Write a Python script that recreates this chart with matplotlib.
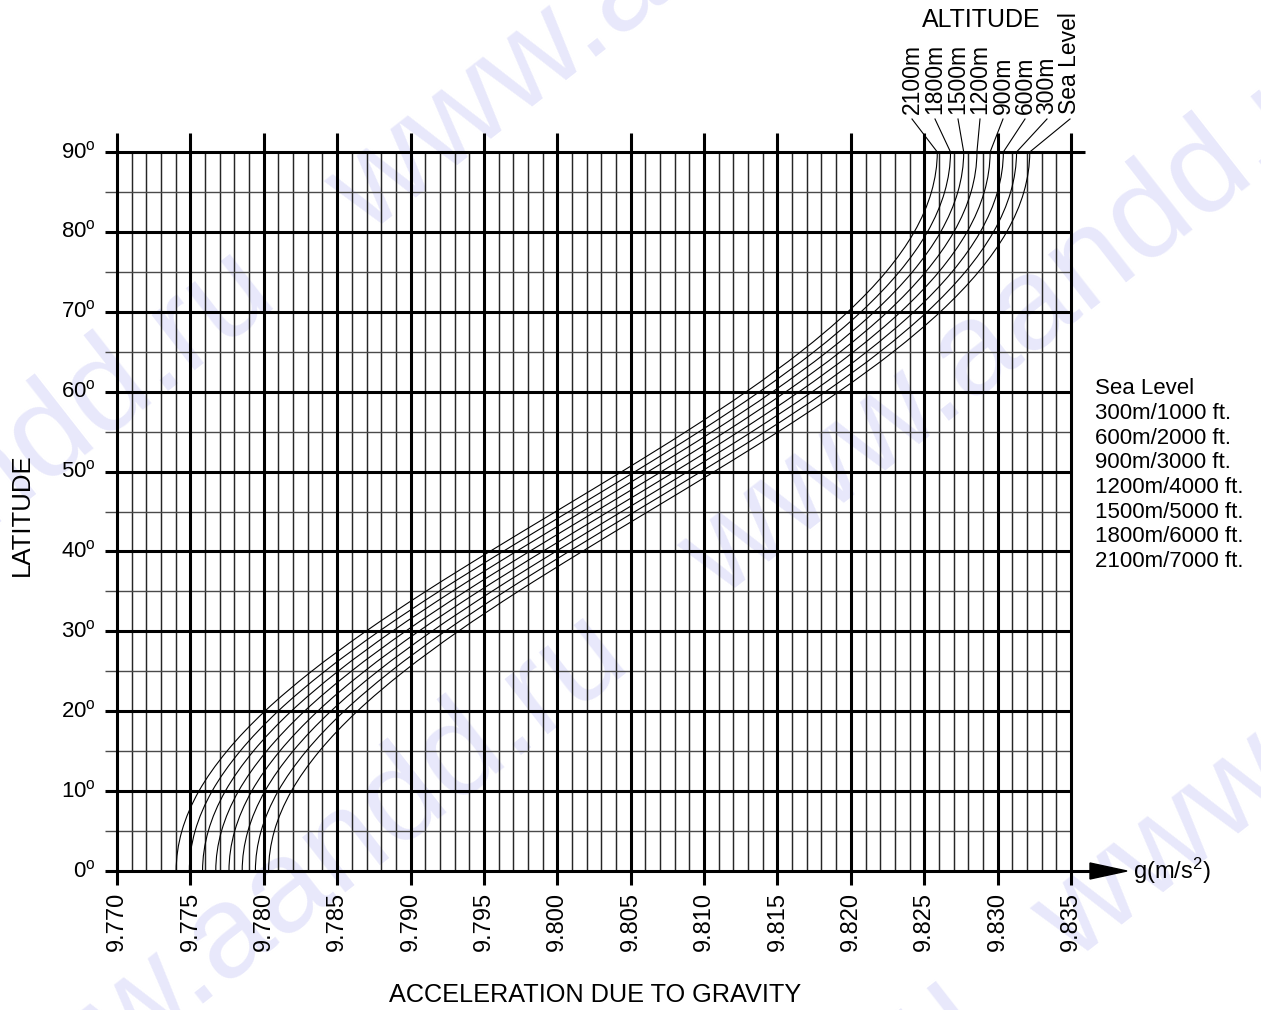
import matplotlib
matplotlib.use("Agg")
import matplotlib.pyplot as plt
from matplotlib.path import Path
from matplotlib.patches import PathPatch, Polygon

plt.rcParams['font.family'] = ['Liberation Sans', 'DejaVu Sans']
plt.rcParams['mathtext.fontset'] = 'custom'
plt.rcParams['mathtext.rm'] = 'Liberation Sans'
plt.rcParams['mathtext.it'] = 'Liberation Sans:italic'

# ---------------- data ----------------
latitudes = [0, 5, 10, 15, 20, 25, 30, 35, 40, 45, 50, 55, 60, 65, 70, 75, 80, 85, 90]
g_sea_level = [9.78033, 9.78072, 9.78188, 9.78379, 9.78637, 9.78956, 9.79325,
               9.79734, 9.80170, 9.80620, 9.81070, 9.81507, 9.81918, 9.82289,
               9.82610, 9.82870, 9.83062, 9.83179, 9.83219]
altitude_names = ["Sea Level", "300m", "600m", "900m", "1200m", "1500m", "1800m", "2100m"]
# horizontal shift of each altitude curve relative to sea level (m/s^2)
altitude_shift = [0.0, 0.0009, 0.0018, 0.0027, 0.0036, 0.0045, 0.0054, 0.0063]
legend_lines = ["Sea Level", "300m/1000 ft.", "600m/2000 ft.", "900m/3000 ft.",
                "1200m/4000 ft.", "1500m/5000 ft.", "1800m/6000 ft.", "2100m/7000 ft."]
x_ticks = [9.770, 9.775, 9.780, 9.785, 9.790, 9.795, 9.800, 9.805, 9.810,
           9.815, 9.820, 9.825, 9.830, 9.835]
y_ticks = [0, 10, 20, 30, 40, 50, 60, 70, 80, 90]
x_minor_step = 0.001
y_minor_step = 5

# ---------------- figure ----------------
W, H = 1261, 1010
fig = plt.figure(figsize=(W / 100, H / 100), dpi=100)
fig.patch.set_facecolor('white')
ax = fig.add_axes([117 / W, 139 / H, 954 / W, 719 / H])
ax.set_xlim(x_ticks[0], x_ticks[-1])
ax.set_ylim(y_ticks[0], y_ticks[-1])
ax.axis('off')
ax.patch.set_alpha(0)

xmin, xmax = x_ticks[0], x_ticks[-1]
ymin, ymax = y_ticks[0], y_ticks[-1]
pxx = 954 / (xmax - xmin)    # pixels per x unit
pxy = 719 / (ymax - ymin)    # pixels per degree


def dx(p):
    return p / pxx


def dy(p):
    return p / pxy


# watermark (site mark of the source image)
wm = "www.aandd.ru   www.aandd.ru   www.aandd.ru   www.aandd.ru"
for cx, cy in [(0.02, 0.98), (0.30, 0.62), (0.58, 0.26), (0.86, -0.10), (-0.26, 1.34)]:
    fig.text(cx + 0.22, cy - 0.22, wm, fontsize=95, color='#e8e8fb', rotation=38,
             ha='center', va='center', zorder=-10, rotation_mode='anchor')

# grid: minor verticals
n_minor_x = int(round((xmax - xmin) / x_minor_step))
for i in range(n_minor_x + 1):
    xv = xmin + i * x_minor_step
    if any(abs(xv - t) < 1e-9 for t in x_ticks):
        continue
    ax.plot([xv, xv], [ymin, ymax], color='#262626', lw=1.05, clip_on=False,
            solid_capstyle='butt', zorder=2)
# minor horizontals
for yv in range(ymin, ymax + 1, y_minor_step):
    if yv in y_ticks:
        continue
    ax.plot([xmin - dx(12), xmax], [yv, yv], color='#4a4a4a', lw=1.0, clip_on=False,
            solid_capstyle='butt', zorder=2)
# major verticals
for xv in x_ticks:
    ax.plot([xv, xv], [ymin - dy(14), ymax + dy(19)], color='black', lw=2.2,
            clip_on=False, solid_capstyle='butt', zorder=3)
# major horizontals
for yv in y_ticks:
    right = xmax
    if yv == ymax:
        right = xmax + dx(14)
    if yv == ymin:
        right = xmax + dx(20)
    ax.plot([xmin - dx(12), right], [yv, yv], color='black', lw=2.2, clip_on=False,
            solid_capstyle='butt', zorder=3)

# arrow head on g axis
ax.add_patch(Polygon([[xmax + dx(19), ymin + dy(8)], [xmax + dx(56), ymin],
                      [xmax + dx(19), ymin - dy(8)]], closed=True, color='black',
                     clip_on=False, zorder=4))
ax.text(xmax + dx(62), ymin, r"g(m/s$^2$)", fontsize=17, ha='left', va='center')


# curves (smooth Catmull-Rom through the read points; mirror ends for symmetry)
def smooth_path(xs, ys):
    P = list(zip(xs, ys))
    ext = [(xs[1], 2 * ys[0] - ys[1])] + P + [(xs[-2], 2 * ys[-1] - ys[-2])]
    verts = [P[0]]
    codes = [Path.MOVETO]
    for i in range(1, len(ext) - 2):
        p0, p1, p2, p3 = ext[i - 1], ext[i], ext[i + 1], ext[i + 2]
        c1 = (p1[0] + (p2[0] - p0[0]) / 6, p1[1] + (p2[1] - p0[1]) / 6)
        c2 = (p2[0] - (p3[0] - p1[0]) / 6, p2[1] - (p3[1] - p1[1]) / 6)
        verts += [c1, c2, p2]
        codes += [Path.CURVE4] * 3
    return Path(verts, codes)


tops = []
for name, sh in zip(altitude_names, altitude_shift):
    gx = [g - sh for g in g_sea_level]
    ax.add_patch(PathPatch(smooth_path(gx, latitudes), fill=False, edgecolor='black',
                           lw=0.8, clip_on=False, zorder=5))
    tops.append(gx[-1])

# altitude labels at top with leader lines
label_px = {"2100m": 912, "1800m": 935, "1500m": 958, "1200m": 980,
            "900m": 1003, "600m": 1025, "300m": 1047, "Sea Level": 1070}
for name, top in zip(altitude_names, tops):
    lx = xmin + dx(label_px[name] - 117)
    ax.text(lx, ymax + dy(38), name, rotation=90, fontsize=16.5, ha='center',
            va='bottom', rotation_mode='default')
    ax.plot([lx, top], [ymax + dy(33), ymax], color='black', lw=0.8, clip_on=False,
            zorder=5)
ax.text(xmin + dx(981 - 117), ymax + dy(152 - 20), "ALTITUDE", fontsize=18,
        ha='center', va='center')

# tick labels
for xv in x_ticks:
    ax.text(xv, ymin - dy(21), f"{xv:.3f}", rotation=90, fontsize=17, ha='center',
            va='top')
for yv in y_ticks:
    ax.text(xmin - dx(21), yv, f"{yv}" + r"$^{\mathrm{o}}$", fontsize=16,
            ha='right', va='center')

# legend text on the right
for i, t in enumerate(legend_lines):
    ax.text(xmax + dx(24), 60 + dy(3) - dy(24.7 * i), t,
            fontsize=16, ha='left', va='center')

# axis titles
fig.text(595 / W, 1 - 995 / H, "ACCELERATION DUE TO GRAVITY", fontsize=18.2,
         ha='center', va='center')
fig.text(22 / W, 1 - 515 / H, "LATITUDE", fontsize=18.5, rotation=90,
         ha='center', va='center')

fig.savefig("out.png", dpi=100, facecolor='white')
